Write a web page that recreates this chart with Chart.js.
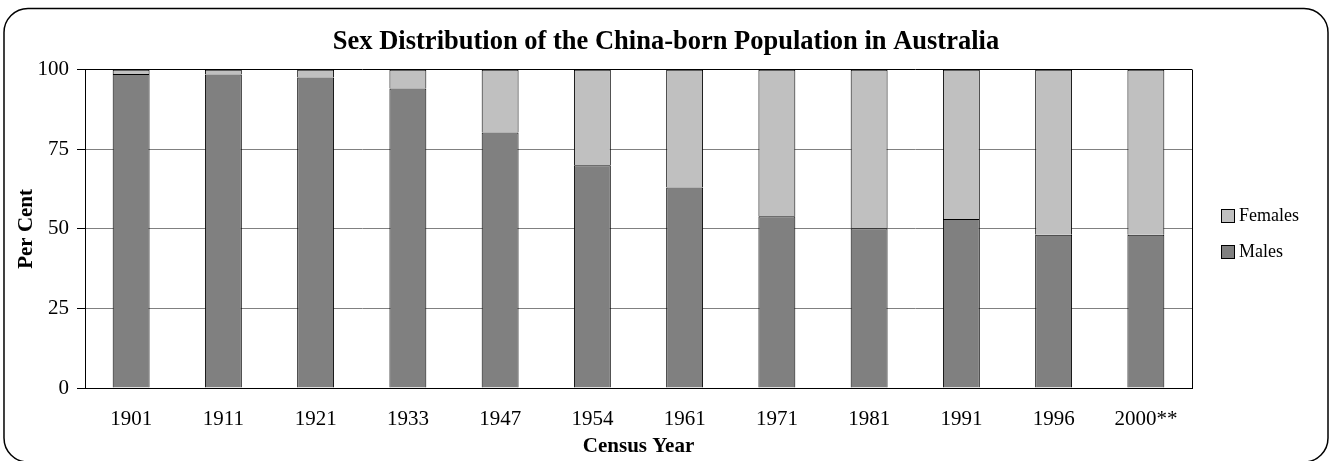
<!DOCTYPE html>
<html><head><meta charset="utf-8">
<script src="https://cdn.jsdelivr.net/npm/chart.js@4.4.1/dist/chart.umd.min.js"></script>
<style>html,body{margin:0;padding:0;background:#fff;overflow:hidden}#wrap{width:1332px;height:461px;position:relative}canvas{display:block}</style>
</head><body><div id="wrap"><canvas id="c" width="1332" height="461"></canvas></div>
<script>
const categories = ['1901','1911','1921','1933','1947','1954','1961','1971','1981','1991','1996','2000**'];
const males   = [98.7, 98.5, 97.6, 94.1, 80.3, 70.0, 63.0, 54.0, 50.2, 53.1, 48.2, 48.2];
const females = [1.3, 1.5, 2.4, 5.9, 19.7, 30.0, 37.0, 46.0, 49.8, 46.9, 51.8, 51.8];
const yTicks = [0, 25, 50, 75, 100];
const titleText = 'Sex Distribution of the China-born Population in Australia';
const xTitle = 'Census Year';
const yTitle = 'Per Cent';

const FONT = "'Liberation Serif', 'Times New Roman', serif";

const framePlugin = {
  id: 'frame',
  beforeDraw(chart) {
    const ctx = chart.ctx;
    ctx.save();
    ctx.fillStyle = '#fff';
    ctx.fillRect(0, 0, chart.width, chart.height);
    const x0 = 4, y0 = 8.5, x1 = 1328, y1 = 462, r = 24;
    ctx.beginPath();
    ctx.moveTo(x0 + r, y0);
    ctx.lineTo(x1 - r, y0);
    ctx.arcTo(x1, y0, x1, y0 + r, r);
    ctx.lineTo(x1, y1 - r);
    ctx.arcTo(x1, y1, x1 - r, y1, r);
    ctx.lineTo(x0 + r, y1);
    ctx.arcTo(x0, y1, x0, y1 - r, r);
    ctx.lineTo(x0, y0 + r);
    ctx.arcTo(x0, y0, x0 + r, y0, r);
    ctx.closePath();
    ctx.lineWidth = 1.5;
    ctx.strokeStyle = '#000';
    ctx.stroke();
    ctx.restore();
  },
  afterDraw(chart) {
    const ctx = chart.ctx, a = chart.chartArea;
    ctx.save();
    ctx.strokeStyle = '#000';
    ctx.lineWidth = 1;
    ctx.beginPath();
    const rx = Math.floor(a.right) + 0.5;
    ctx.moveTo(rx, Math.floor(a.top) + 0.5);
    ctx.lineTo(rx, Math.floor(a.bottom) + 0.5);
    ctx.stroke();
    // legend (reverse order: Females on top)
    const ds = chart.data.datasets.slice().reverse();
    const bx = 1221, by0 = 209, step = 36, bs = 13;
    ctx.font = "18px " + FONT;
    ctx.textBaseline = 'middle';
    ctx.textAlign = 'left';
    ds.forEach((d, i) => {
      const y = by0 + i * step;
      ctx.fillStyle = d.backgroundColor;
      ctx.fillRect(bx, y, bs, bs);
      ctx.strokeStyle = '#000';
      ctx.strokeRect(bx + 0.5, y + 0.5, bs, bs);
      ctx.fillStyle = '#000';
      ctx.fillText(d.label, 1239, y + bs / 2 + 1);
    });
    ctx.restore();
  }
};

new Chart(document.getElementById('c'), {
  type: 'bar',
  data: {
    labels: categories,
    datasets: [
      { label: 'Males', data: males, backgroundColor: '#808080', borderColor: '#000', borderWidth: 1, categoryPercentage: 1, barPercentage: 0.4 },
      { label: 'Females', data: females, backgroundColor: '#C0C0C0', borderColor: '#000', borderWidth: 1, categoryPercentage: 1, barPercentage: 0.4 }
    ]
  },
  options: {
    responsive: false,
    animation: false,
    devicePixelRatio: 1,
    layout: { padding: { top: 0, left: 0, right: 0, bottom: 0 } },
    plugins: {
      legend: { display: false },
      tooltip: { enabled: false },
      title: {
        display: true, text: titleText, color: '#000',
        font: { family: FONT, size: 26.5, weight: 'bold' },
        padding: { top: 26, bottom: 12 }
      }
    },
    scales: {
      x: {
        stacked: true,
        grid: { display: false, drawTicks: false },
        border: { display: true, color: '#000', width: 1 },
        ticks: { color: '#000', font: { family: FONT, size: 21 }, padding: 19, maxRotation: 0, autoSkip: false },
        title: { display: true, text: xTitle, color: '#000', font: { family: FONT, size: 21, weight: 'bold' }, padding: { top: 0, bottom: 1.4 } },
        afterFit(s) { s.height = 73; }
      },
      y: {
        stacked: true,
        min: 0, max: 100,
        afterBuildTicks(s) { s.ticks = yTicks.map(v => ({ value: v })); },
        grid: {
          color: c => (c.tick && c.tick.value === 100) ? '#000' : '#808080',
          lineWidth: 1, drawTicks: true, tickLength: 8, tickColor: '#000'
        },
        border: { display: true, color: '#000', width: 1 },
        ticks: { color: '#000', font: { family: FONT, size: 21 }, padding: 8 },
        title: { display: true, text: yTitle, color: '#000', font: { family: FONT, size: 21, weight: 'bold' }, padding: { top: 13.6, bottom: 0 } },
        afterFit(s) { s.width = 85; }
      },
      legendSpace: {
        type: 'linear',
        position: 'right',
        grid: { display: false, drawTicks: false },
        border: { display: false },
        ticks: { display: false },
        title: { display: false },
        afterFit(s) { s.width = 140; }
      }
    }
  },
  plugins: [framePlugin]
});
</script>
</body></html>
